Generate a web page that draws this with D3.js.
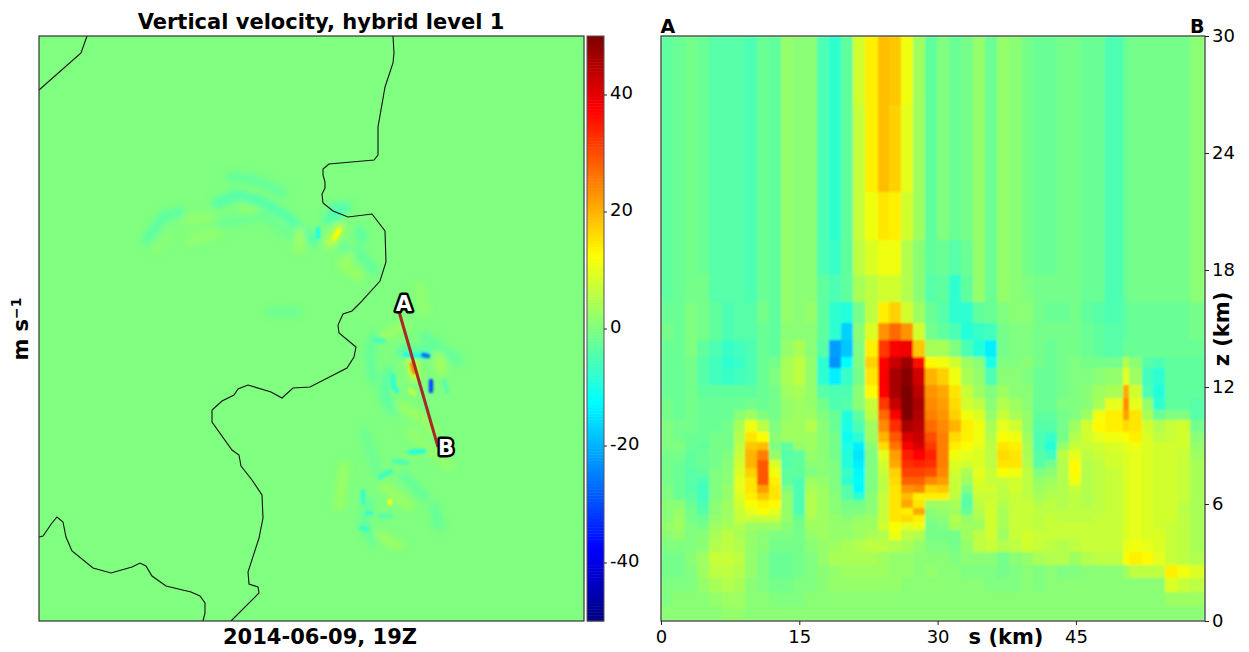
<!DOCTYPE html>
<html>
<head>
<meta charset="utf-8">
<script src="https://cdn.jsdelivr.net/npm/d3@7"></script>
<style>
  html, body { margin: 0; padding: 0; background: #fff; }
  svg { display: block; }
  text { font-family: "DejaVu Sans", sans-serif; fill: #000; }
  .bold { font-weight: bold; font-size: 21px; }
  .axis text { font-size: 18px; }
  .axis path { display: none; }
  .axis line { stroke: #222; stroke-width: 1; }
</style>
</head>
<body>
<svg id="chart" width="1249" height="652"></svg>
<script>
// cross-section: column edges (km along A-B), level edges (km), w in m/s (top row first)
var sEdges = [0,1.3,2.6,3.9,5.2,6.6,7.9,9.1,10.4,11.7,13,14.3,15.6,16.9,18.2,19.5,20.8,22.1,23.5,24.7,26,27.3,28.6,29.9,31.2,32.5,33.8,35.1,36.4,37.7,39.1,40.3,41.6,43,44.3,45.6,46.9,48.2,50.1,50.8,52.2,53.4,54.7,56,57.4,59];
var zEdges = [30,26.46,22,19.54,17.74,16.36,15.28,14.41,13.54,12.97,12.1,11.44,10.82,10.31,9.69,9.18,8.77,8.26,7.85,7.38,6.97,6.56,6.2,5.79,5.44,5.08,4.67,4.15,3.54,2.87,2.2,1.49,0.77,0];
var wRows = [
  [-3,-2,-1,-2,-4,-4,-4,-5,-2,-3,2,1,1,-5, -8,-3,8,14,19,18,11,3, -3,0,-2,-1,2,-2,2,1,-1,-2,-2,-1,-1,-2,-2,-5,-2,-1,-1,-1,-1,-1,1],
  [-3,-2,-1,-2,-4,-4,-4,-5,-2,-3,2,1,1,-5, -8,-3,7,14,19,17,10,3, -3,0,-2,-1,2,-2,2,1,-1,-2,-2,-1,-1,-2,-2,-5,-2,-1,-1,-1,-1,-1,1],
  [-3,-2,-1,-2,-4,-4,-4,-5,-2,-3,2,1,1,-5, -8,-3,7,11,15,14,8,3, -3,0,-2,-1,2,-2,2,1,-1,-2,-2,-1,-1,-2,-2,-5,-2,-1,-1,-1,-1,-1,1],
  [-3,-2,-1,-2,-4,-4,-4,-5,-2,-3,2,1,1,-5, -7,-3,6,9,11,11,5,1, -3,-2,-4,-2,2,-2,2,1,-1,-2,-2,-1,-1,-2,-2,-5,-2,-1,-1,-1,-1,-1,1],
  [-3,-2,-1,-1,-4,-4,-4,-5,-2,-3,2,1,1,-3, -5,-3,4,6,8,8,5,1, -4,-3,-8,-3,2,-2,2,1,0,-1,-1,-1,-1,-2,-2,-5,-2,-1,-1,-1,-1,-1,1],
  [-2,-2,0,-1,-3,-5,-4,-4,-1,-3,2,1,2,-3, -8,-9,-1,6,14,17,8,3, -2,-4,-8,-8,-3,-2,0,1,1,-1,-2,-2,-1,-3,-4,-5,-3,-2,-2,-2,-2,-2,-1],
  [-1,-2,0,-1,-3,-5,-4,-4,-2,-3,1,1,1,-3, -8,-17,1,9,23,27,23,8, -1,-3,-5,-9,-7,-6,-1,0,0,-1,-1,-1,-1,-2,-3,-4,-3,-2,-2,-2,-2,-2,-1],
  [-2,-2,0,-3,-5,-7,-6,-5,-2,-3,2,4,1,-4, -22,-18,0,14,32,38,39,18, 4,4,0,-5,-9,-14,-1,0,0,-1,-2,-1,-1,-2,-3,-4,-2,-2,-2,-2,-2,-2,-2],
  [-2,-2,-1,-4,-6,-8,-7,-5,-2,-1,4,6,2,-8, -23,-12,0,17,37,43,47,36, 13,11,8,3,1,-10,0,0,1,-1,-2,-1,0,-1,-1,-1,5,1,-4,-5,-3,-3,-3],
  [-2,-2,-1,-4,-6,-7,-6,-5,-2,0,4,6,2,-8, -14,-7,-1,15,38,46,49,42, 20,17,11,4,2,-5,1,1,0,-2,-2,-1,0,0,1,2,10,3,-6,-8,-3,-3,-3],
  [-2,-2,-1,-3,-3,-3,-3,-3,-2,-1,3,4,2,-4, -5,-5,1,13,37,46,50,44, 23,21,15,7,3,0,3,1,1,-2,-2,-1,0,1,3,4,21,8,-5,-9,-3,-3,-3],
  [-1,-2,-1,-2,-2,-2,-2,-1,-2,-1,2,3,2,-1, -5,-4,1,7,32,43,50,46, 24,22,16,8,6,1,5,3,1,-2,-2,0,0,1,4,10,24,10,2,-8,-3,-3,-4],
  [-1,-2,-1,-2,-2,-2,1,3,0,-1,2,3,3,0, -2,-9,-3,6,27,38,50,45, 25,23,17,11,9,2,7,4,2,-3,-3,-1,0,3,11,14,22,15,4,-2,0,0,-4],
  [0,-1,-1,-2,-2,-1,4,11,6,0,3,3,5,1, -2,-10,-5,3,24,33,46,44, 27,24,20,14,11,4,10,8,2,-4,-4,-1,3,8,13,14,16,15,8,5,7,8,-1],
  [0,-1,-2,-2,-1,-1,5,15,12,1,3,3,3,1, -1,-11,-8,3,20,29,41,43, 30,25,16,14,11,5,12,11,3,-5,-7,-1,5,8,10,11,12,14,9,6,7,8,1],
  [0,0,-2,-3,-1,-1,6,18,19,0,-3,2,3,1, -1,-10,-14,1,16,26,38,41, 32,25,14,12,10,6,15,14,4,-5,-9,2,7,7,8,9,10,11,9,8,8,8,2],
  [-1,-1,-3,-2,-1,0,7,20,25,2,-4,-3,2,1, -1,-9,-15,0,10,22,35,37, 34,25,11,10,9,6,16,15,4,-4,-6,6,10,6,7,8,9,10,9,8,8,7,3],
  [-1,-2,-3,-2,-1,1,8,20,29,9,-4,-3,1,1, 0,-9,-14,0,8,21,33,34, 33,25,9,8,9,6,15,15,5,-4,-1,5,13,5,6,8,9,10,9,8,8,7,4],
  [-1,-2,-4,-3,0,1,9,17,29,11,-3,-3,0,1, 0,-7,-13,0,7,17,31,31, 30,24,8,4,10,7,12,11,6,0,1,5,13,5,6,7,9,10,9,8,8,7,4],
  [-1,-2,-4,-5,0,1,10,15,29,14,-3,-5,3,2, 0,-8,-12,0,6,16,28,28, 24,22,7,3,9,7,7,8,6,2,3,5,11,5,6,7,9,10,9,8,8,7,4],
  [0,-2,-4,-6,0,2,10,15,22,15,0,-5,4,3, 0,-4,-13,0,6,15,23,24, 17,18,7,0,8,8,6,8,6,3,4,5,7,5,6,7,9,10,9,8,8,7,4],
  [0,-2,-3,-6,0,2,9,14,18,15,2,-5,5,3, 1,-4,-8,1,7,15,19,14, 14,14,6,-3,7,7,6,7,6,4,5,5,6,5,6,7,9,10,9,8,8,7,4],
  [1,1,-2,-5,1,3,8,12,14,13,2,-5,5,3, 1,-1,-1,1,7,15,21,15, 3,3,4,-4,6,8,5,7,7,5,6,5,6,5,6,7,9,10,9,8,8,6,4],
  [1,2,-1,-4,1,3,7,10,12,10,2,-5,5,3, 1,0,0,1,7,15,14,21, 1,2,3,-2,5,8,4,7,7,6,6,6,6,6,6,7,9,10,9,8,8,6,4],
  [1,3,-1,-2,2,3,7,7,7,7,2,-2,4,3, 2,1,2,3,7,15,16,14, 0,1,5,2,4,8,4,7,7,6,7,6,6,6,7,7,9,10,9,8,8,6,4],
  [2,3,0,-1,3,4,5,3,3,3,1,-1,3,3, 2,2,3,3,8,12,10,11, -1,0,4,3,3,8,4,7,7,6,7,7,7,7,7,7,9,10,9,8,7,6,4],
  [1,2,0,1,4,6,4,2,1,0,0,-1,2,3, 2,2,3,4,5,11,6,5, -1,-1,-1,3,6,8,3,7,8,7,7,7,7,7,7,7,9,10,9,9,7,6,4],
  [0,0,0,1,5,6,5,2,1,-1,-1,-1,1,2, 3,4,5,6,6,5,4,2, 0,0,-1,2,6,7,5,6,8,7,6,5,6,7,7,7,10,11,10,9,7,6,4],
  [-1,-1,1,3,7,7,6,2,0,-2,-2,-1,0,2, 4,4,4,4,3,2,2,1, 1,1,0,1,1,1,-1,1,2,4,5,5,3,5,6,6,12,14,13,10,7,6,5],
  [-1,-1,0,3,6,6,5,2,0,-2,-2,-1,0,1, 2,3,3,3,3,2,2,1, 2,1,1,0,0,0,-1,0,1,0,1,0,0,1,1,1,3,6,6,6,14,11,9],
  [0,0,0,2,4,5,4,1,0,-1,-1,0,0,1, 2,2,2,2,2,2,1,1, 1,1,1,1,1,0,0,0,1,0,1,1,1,1,1,1,1,1,1,1,9,7,6],
  [0,1,1,1,2,3,3,1,1,0,0,0,1,1, 1,1,1,1,1,1,1,1, 1,1,1,1,1,1,1,1,1,1,1,1,1,1,1,1,1,1,1,1,3,3,3],
  [1,1,1,1,1,2,2,1,1,1,1,1,1,1, 1,1,1,1,1,1,1,1, 1,1,1,1,1,1,1,1,1,1,1,1,1,1,1,1,1,1,1,1,1,1,1]
];

// map panel, coordinates in map grid units
var coastNorthWest = [[48,0],[42,17],[0,54]];
var coastMain = [[354,0],[355,17],[354,27],[346,51],[339,91],[339,119],[335,124],[290,128],[284,133],[284,139],[286,146],[286,152],[283,158],[284,167],[294,175],[309,181],[333,178],[346,195],[347,226],[341,245],[321,267],[313,275],[304,278],[299,289],[300,297],[317,311],[315,321],[308,332],[271,351],[254,352],[243,362],[232,356],[209,349],[199,353],[195,359],[183,365],[173,374],[173,386],[193,414],[200,419],[202,430],[213,444],[223,459],[224,482],[220,502],[209,536],[210,548],[219,551],[220,557],[192,585]];
var coastSouth = [[0,501],[4,500],[13,487],[18,481],[24,486],[27,501],[33,515],[54,532],[72,537],[93,531],[101,527],[107,530],[113,540],[127,550],[152,556],[161,560],[166,567],[166,577],[164,585]];
var sectionLine = [[359,272],[399,411]];
var sectionNames = ["A","B"];

// level-1 w field: value then the points each ridge runs through
var broadRidges = [
  [-5,[[178,167],[198,159],[224,166],[248,181],[275,205]]],
  [-3,[[191,141],[218,144],[244,157]]],
  [-4,[[108,204],[124,181],[141,176]]],
  [2,[[148,184],[171,181]]],
  [2,[[151,204],[180,196]]],
  [1,[[115,215],[130,200]]],
  [2,[[205,172],[240,188],[262,215]]],
  [-2,[[180,188],[225,180],[258,205]]],
  [-2,[[231,276],[258,276]]],
  [7,[[291,207],[301,192]]],
  [-5,[[294,172],[308,171]]],
  [-5,[[288,184],[300,179]]],
  [-4,[[321,194],[323,204]]],
  [-3,[[304,211],[315,220]]],
  [4,[[261,206],[261,196]]],
  [3,[[304,227],[311,220]]],
  [3,[[305,230],[320,240]]],
  [-3,[[320,215],[335,235]]],
  [2,[[380,250],[385,275]]],
  [3,[[345,300],[365,290]]],
  [-3,[[335,300],[330,320],[335,345]]],
  [-3,[[385,300],[420,325]]],
  [4,[[400,320],[402,335]]],
  [-4,[[350,335],[345,360],[355,375]]],
  [3,[[360,370],[380,380],[395,395]]],
  [-2,[[325,395],[340,440]]],
  [2,[[370,395],[410,430]]],
  [-3,[[330,465],[325,490],[335,505]]],
  [3,[[345,450],[370,470]]],
  [-3,[[365,440],[385,460]]],
  [3,[[305,430],[300,470]]],
  [3,[[340,500],[360,510]]],
  [-3,[[395,470],[400,490]]],
  [9,[[372,322],[376,340]]],
  [-5,[[362,316],[390,316]]]
];
var fineRidges = [
  [12,[[296,202],[300,194]]],
  [-10,[[279,201],[279,193]]],
  [24,[[373,328],[375,336]]],
  [-10,[[366,319],[388,320]]],
  [-26,[[384,319],[389,320]]],
  [-30,[[392,345],[392,355]]],
  [-8,[[354,340],[354,350],[358,355]]],
  [-6,[[336,304],[345,305]]],
  [6,[[371,354],[376,358]]],
  [-9,[[371,416],[385,415]]],
  [-7,[[341,441],[352,435]]],
  [-5,[[355,425],[368,427]]],
  [13,[[351,465],[351,467]]],
  [-7,[[324,455],[324,467]]],
  [-7,[[328,477],[332,477]]],
  [-7,[[322,492],[328,493]]],
  [-4,[[340,480],[352,480]]],
  [-4,[[405,345],[408,355]]]
];

var colourTicks = [-40,-20,0,20,40];
var sTicks = [0,15,30,45];
var zTicks = [0,6,12,18,24,30];

var svg = d3.select("#chart");
var defs = svg.append("defs");

// jet colormap
var jet = d3.scaleLinear()
  .domain([-50,-37.5,-12.5,12.5,37.5,50])
  .range(["#00007f","#0000ff","#00ffff","#ffff00","#ff0000","#7f0000"])
  .clamp(true);

var left = {x0: 39, x1: 584, y0: 36, y1: 621};
var right = {x0: 661, x1: 1205, y0: 36, y1: 621};

defs.append("clipPath").attr("id","mapClip").append("rect")
  .attr("x",left.x0).attr("y",left.y0).attr("width",left.x1-left.x0).attr("height",left.y1-left.y0);
defs.append("clipPath").attr("id","secClip").append("rect")
  .attr("x",right.x0).attr("y",right.y0).attr("width",right.x1-right.x0).attr("height",right.y1-right.y0);
function blurFilter(id,dev){
  defs.append("filter").attr("id",id).attr("filterUnits","userSpaceOnUse")
    .attr("x",0).attr("y",0).attr("width",1249).attr("height",652)
    .append("feGaussianBlur").attr("stdDeviation",dev);
}
blurFilter("broadBlur",3.5);
blurFilter("fineBlur",1.3);
blurFilter("secBlur",0.8);

// left panel
var mapX = d3.scaleLinear().domain([0,545]).range([left.x0,left.x1]);
var mapY = d3.scaleLinear().domain([0,585]).range([left.y0,left.y1]);
var mapLine = d3.line().x(function(d){return mapX(d[0]);}).y(function(d){return mapY(d[1]);});

var mapG = svg.append("g").attr("clip-path","url(#mapClip)");
mapG.append("rect")
  .attr("x",left.x0).attr("y",left.y0).attr("width",left.x1-left.x0).attr("height",left.y1-left.y0)
  .attr("fill",jet(0));

function drawRidges(data,filterId,width){
  mapG.append("g").attr("filter","url(#"+filterId+")").selectAll("path")
    .data(data).enter().append("path")
    .attr("d",function(d){return mapLine(d[1]);})
    .attr("fill","none")
    .attr("stroke",function(d){return jet(d[0]);})
    .attr("stroke-width",width)
    .attr("stroke-linecap","round")
    .attr("stroke-linejoin","round");
}
drawRidges(broadRidges,"broadBlur",9);
drawRidges(fineRidges,"fineBlur",4.5);

mapG.selectAll("path.coast")
  .data([coastNorthWest,coastMain,coastSouth]).enter().append("path")
  .attr("class","coast")
  .attr("d",mapLine)
  .attr("fill","none").attr("stroke","#111").attr("stroke-width",1.1);

svg.append("path").attr("d",mapLine(sectionLine))
  .attr("fill","none").attr("stroke","#a52a2a").attr("stroke-width",3);
svg.selectAll("text.sec")
  .data(sectionNames).enter().append("text")
  .attr("class","sec bold")
  .attr("x",function(d,i){return mapX(sectionLine[i][0]) + (i ? 8 : 6);})
  .attr("y",function(d,i){return mapY(sectionLine[i][1]) + (i ? 0 : -5);})
  .attr("dy","0.36em")
  .attr("text-anchor","middle")
  .style("fill","#fff").style("stroke","#000").style("stroke-width",5)
  .style("paint-order","stroke").style("stroke-linejoin","round")
  .text(function(d){return d;});

svg.append("rect")
  .attr("x",left.x0).attr("y",left.y0).attr("width",left.x1-left.x0).attr("height",left.y1-left.y0)
  .attr("fill","none").attr("stroke","#333").attr("stroke-width",1.2);

// colour bar
var cbY = d3.scaleLinear().domain([-50,50]).range([621,36]);
var cbG = svg.append("g");
cbG.selectAll("rect")
  .data(d3.range(-50,50,0.5)).enter().append("rect")
  .attr("x",587).attr("width",17)
  .attr("y",function(d){return cbY(d+0.5);})
  .attr("height",function(d){return cbY(d)-cbY(d+0.5)+0.5;})
  .attr("fill",function(d){return jet(d+0.25);});
svg.append("rect").attr("x",587).attr("y",36).attr("width",17).attr("height",585)
  .attr("fill","none").attr("stroke","#555").attr("stroke-width",1);
var cbAxis = svg.append("g").attr("class","axis").attr("transform","translate(604,0)")
  .call(d3.axisRight(cbY).tickValues(colourTicks).tickSize(3).tickPadding(3).tickFormat(function(d){return String(d);}));
cbAxis.selectAll("text").attr("y",-1.5);

// right panel
var sX = d3.scaleLinear().domain([0,59]).range([right.x0,right.x1]);
var zY = d3.scaleLinear().domain([0,30]).range([right.y1,right.y0]);

var secG = svg.append("g").attr("clip-path","url(#secClip)").append("g").attr("filter","url(#secBlur)");
wRows.forEach(function(row,r){
  secG.append("g").selectAll("rect").data(row).enter().append("rect")
    .attr("x",function(d,c){return sX(sEdges[c]);})
    .attr("width",function(d,c){return sX(sEdges[c+1])-sX(sEdges[c]);})
    .attr("y",zY(zEdges[r]))
    .attr("height",zY(zEdges[r+1])-zY(zEdges[r]))
    .attr("fill",function(d){return jet(d);})
    .attr("shape-rendering","crispEdges");
});
svg.append("rect")
  .attr("x",right.x0).attr("y",right.y0).attr("width",right.x1-right.x0).attr("height",right.y1-right.y0)
  .attr("fill","none").attr("stroke","#333").attr("stroke-width",1.2);

svg.append("g").attr("class","axis").attr("transform","translate(0,621)")
  .call(d3.axisBottom(sX).tickValues(sTicks).tickSize(4).tickPadding(5).tickFormat(d3.format("d")));
var zAxis = svg.append("g").attr("class","axis").attr("transform","translate(1205,0)")
  .call(d3.axisRight(zY).tickValues(zTicks).tickSize(4).tickPadding(3).tickFormat(d3.format("d")));
zAxis.selectAll("text").attr("y",-0.5);

// labels
function label(txt,x,y,rot){
  var t = svg.append("text").attr("class","bold").attr("text-anchor","middle")
    .attr("transform","translate("+x+","+y+")"+(rot ? " rotate(-90)" : ""));
  t.text(txt);
  return t;
}
label("Vertical velocity, hybrid level 1",321,29);
label("2014-06-09, 19Z",320,644);
label("s (km)",1006,644);
label("z (km)",1229,329,true);
var unit = label("",28,329,true);
unit.append("tspan").text("m s");
unit.append("tspan").attr("dy",-7).style("font-size","14px").text("\u22121");
svg.append("text").attr("class","bold").attr("x",660.5).attr("y",33).style("font-size","19px").text("A");
svg.append("text").attr("class","bold").attr("x",1190).attr("y",33).style("font-size","19px").text("B");
</script>
</body>
</html>
